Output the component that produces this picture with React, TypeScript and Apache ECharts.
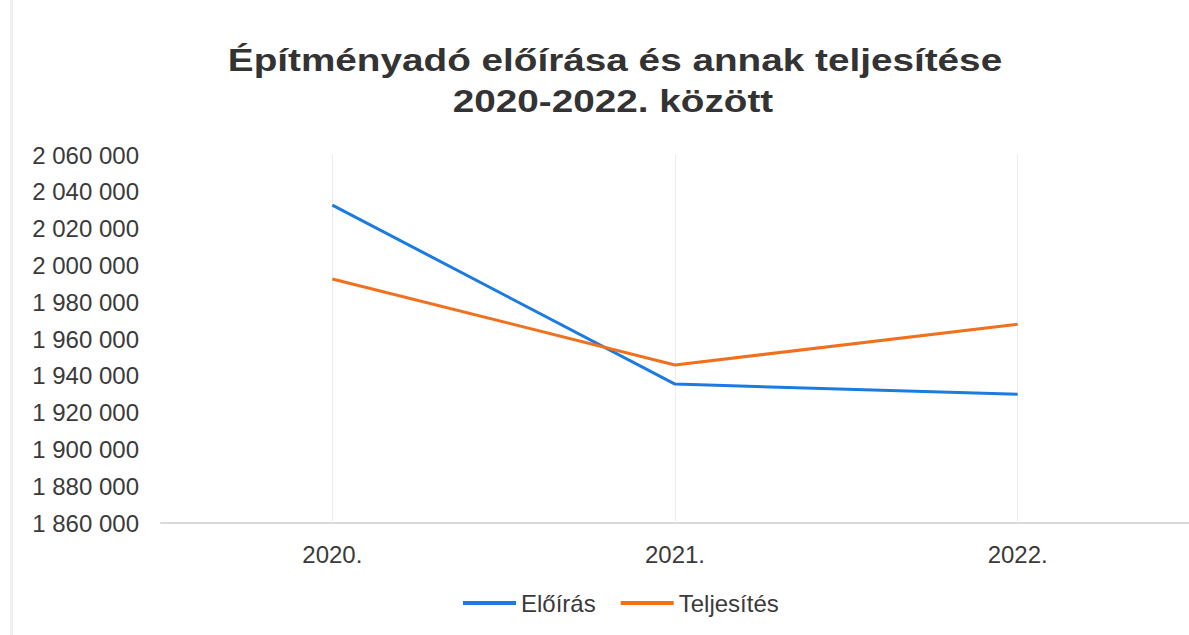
import React, { useEffect, useRef } from "react";
import * as echarts from "echarts";

const categories = ["2020.", "2021.", "2022."];
const seriesNames = ["Előírás", "Teljesítés"];
const eloirasValues = [2032800, 1935500, 1930000];
const teljesitesValues = [1992600, 1945900, 1968000];
const titleLines = ["Építményadó előírása és annak teljesítése", "2020-2022. között"];
const yMin = 1860000;
const yMax = 2060000;
const yStep = 20000;

const BLUE = "#1c7be0";
const ORANGE = "#f0701e";
const TEXT = "#3a3a3a";
const FONT = '"Liberation Sans", Arial, sans-serif';

const fmt = (v: number) => String(v).replace(/\B(?=(\d{3})+(?!\d))/g, " ");

export default function App() {
  const ref = useRef<HTMLDivElement>(null);
  useEffect(() => {
    if (!ref.current) return;
    const chart = echarts.init(ref.current, undefined, { renderer: "svg" });
    chart.setOption({
      animation: false,
      backgroundColor: "#ffffff",
      textStyle: { fontFamily: FONT },
      graphic: [
        {
          type: "rect",
          silent: true,
          shape: { x: 10, y: 0, width: 3, height: 635 },
          style: { fill: "#f1f1f1" },
        },
        {
          type: "text",
          x: 615,
          y: 60,
          scaleX: 1.21,
          style: {
            text: titleLines[0],
            font: `bold 32px ${FONT}`,
            fill: "#333333",
            textAlign: "center",
            textVerticalAlign: "middle",
          },
        },
        {
          type: "text",
          x: 613,
          y: 101,
          scaleX: 1.21,
          style: {
            text: titleLines[1],
            font: `bold 32px ${FONT}`,
            fill: "#333333",
            textAlign: "center",
            textVerticalAlign: "middle",
          },
        },
      ],
      grid: { left: 161, right: 0, top: 155, bottom: 112, containLabel: false },
      xAxis: {
        type: "category",
        data: categories,
        boundaryGap: true,
        axisLine: { lineStyle: { color: "#d9d9d9", width: 2 } },
        axisTick: { show: false },
        splitLine: { show: false },
        axisLabel: { color: TEXT, fontSize: 24, fontFamily: FONT, margin: 19 },
      },
      yAxis: {
        type: "value",
        min: yMin,
        max: yMax,
        interval: yStep,
        axisLine: { show: false },
        axisTick: { show: false },
        splitLine: { show: false },
        axisLabel: { color: TEXT, fontSize: 24, fontFamily: FONT, margin: 22, formatter: fmt },
      },
      legend: {
        data: seriesNames,
        left: 458,
        top: 586,
        itemWidth: 53,
        itemHeight: 4,
        itemGap: 25,
        icon: "rect",
        textStyle: { color: TEXT, fontSize: 24, fontFamily: FONT },
      },
      series: [
        {
          name: seriesNames[0],
          type: "line",
          data: eloirasValues,
          symbol: "none",
          z: 3,
          lineStyle: { color: BLUE, width: 3 },
          itemStyle: { color: BLUE },
          markLine: {
            silent: true,
            z: 1,
            symbol: ["none", "none"],
            label: { show: false },
            lineStyle: { color: "#ececec", width: 1, type: "solid" },
            data: categories.map((c) => ({ xAxis: c })),
          },
        },
        {
          name: seriesNames[1],
          type: "line",
          data: teljesitesValues,
          symbol: "none",
          z: 4,
          lineStyle: { color: ORANGE, width: 3 },
          itemStyle: { color: ORANGE },
        },
      ],
    });
    return () => chart.dispose();
  }, []);
  return (
    <div
      ref={ref}
      style={{ position: "absolute", left: 0, top: 0, width: 1189, height: 635 }}
    />
  );
}
